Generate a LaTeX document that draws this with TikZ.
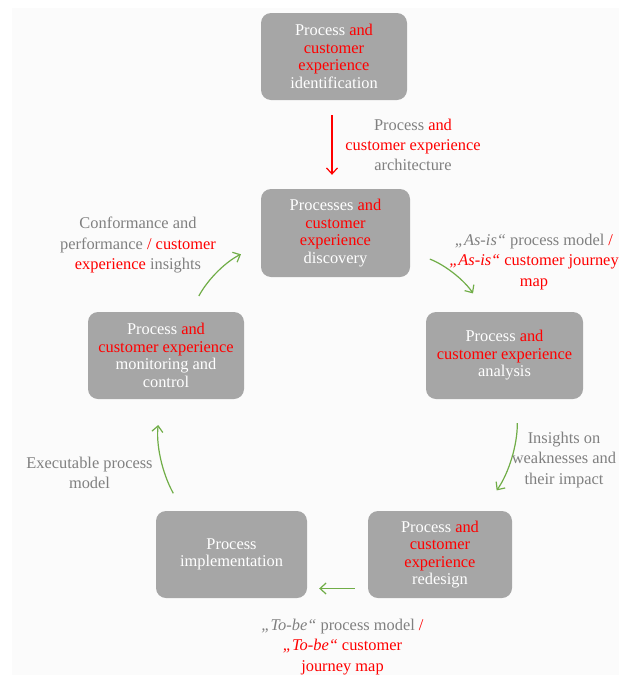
\documentclass[tikz,border=0pt]{standalone}
\usepackage{fontspec}
\setmainfont{Liberation Serif}
\usepackage{tikz}
\usetikzlibrary{arrows.meta}
\usepackage{xcolor}

\definecolor{boxgray}{RGB}{166,166,166}
\definecolor{labelgray}{RGB}{128,128,128}
\definecolor{hlred}{RGB}{255,0,0}
\definecolor{flowgreen}{RGB}{112,173,71}
\definecolor{bggray}{RGB}{251,251,251}
\newcommand{\rd}[1]{\textcolor{hlred}{#1}}

\begin{document}
\begin{tikzpicture}[
    x=1pt, y=-1pt,
    font=\fontsize{16.4}{20.3}\selectfont,
    box/.style={rectangle, rounded corners=10pt, fill=boxgray, text=white, minimum width=146pt, minimum height=87pt, align=center, inner sep=0pt, font=\fontsize{16.4}{17.5}\selectfont},
    lbl/.style={text=labelgray, align=center, inner sep=0pt},
    flow/.style={-{Straight Barb[length=6pt,width=11pt]}, draw=flowgreen, line width=1.2pt},
    redflow/.style={flow, draw=hlred}
  ]

\useasboundingbox (0,0) rectangle (619,675);
\fill[bggray] (12,8) rectangle (619,675);

% Nodes
\node[box] (ident) at (334,56.5) {Process \rd{and}\\ \rd{customer}\\ \rd{experience}\\ identification};
\node[box, minimum width=149pt, minimum height=88pt] (disc) at (335.5,233) {Processes \rd{and}\\ \rd{customer}\\ \rd{experience}\\ discovery};
\node[box, minimum width=157pt] (ana) at (504.5,355.5) {Process \rd{and}\\ \rd{customer experience}\\ analysis};
\node[box, minimum width=144pt] (redesign) at (440,554.5) {Process \rd{and}\\ \rd{customer}\\ \rd{experience}\\ redesign};
\node[box, minimum width=151pt] (impl) at (231.5,554.5) {Process\\ implementation};
\node[box, minimum width=156pt] (mon) at (166,355.5) {Process \rd{and}\\ \rd{customer experience}\\ monitoring and\\ control};

% Labels
\node[lbl] (archlbl) at (413,145) {Process \rd{and}\\ \rd{customer experience}\\ architecture};
\node[lbl] (asislbl) at (534,262) {\textit{„As-is“} process model \rd{/}\\ \rd{\textit{„As-is“} customer journey}\\ \rd{map}};
\node[lbl] (weaklbl) at (564,460) {Insights on\\ weaknesses and\\ their impact};
\node[lbl] (tobelbl) at (342.5,647) {\textit{„To-be“} process model \rd{/}\\ \rd{\textit{„To-be“} customer}\\ \rd{journey map}};
\node[lbl] (execlbl) at (89.5,473) {Executable process\\ model};
\node[lbl] (conflbl) at (138,245) {Conformance and\\ performance \rd{/ customer}\\ \rd{experience} insights};

% Arrows
\draw[redflow, shorten <=15pt, shorten >=14pt] ([xshift=-2pt]ident.south) -- ([xshift=-2pt]ident.south |- disc.north);
\draw[flow, shorten <=21pt, shorten >=22pt] (disc.-14) to[bend left=18] (ana.114);
\draw[flow, shorten <=24pt, shorten >=25pt] (ana.-74.6) to[bend left=18] (redesign.46.7);
\draw[flow, shorten <=13pt, shorten >=12pt] ([yshift=-34pt]redesign.west) -- ([yshift=-34pt]impl.east);
\draw[flow, shorten <=20pt, shorten >=26pt] (impl.138.7) to[bend left=18] (mon.-96.6);
\draw[flow, shorten <=18pt, shorten >=22pt] (mon.61.1) to[bend left=18] (disc.189.5);

\end{tikzpicture}
\end{document}
